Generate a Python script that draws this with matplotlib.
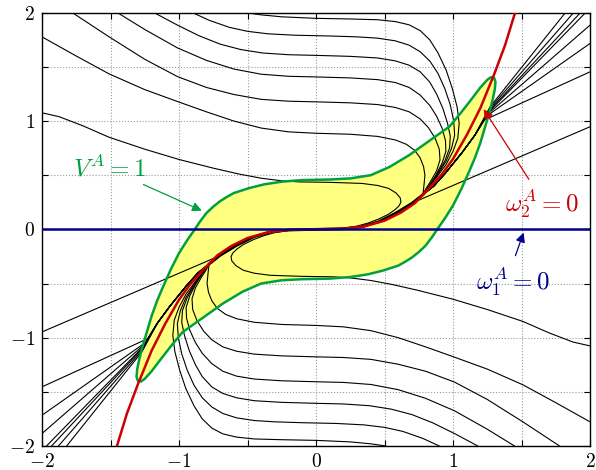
import matplotlib
matplotlib.use("Agg")
import matplotlib.pyplot as plt
from matplotlib.ticker import MultipleLocator, FuncFormatter

plt.rcParams['mathtext.fontset'] = 'cm'
plt.rcParams['font.family'] = ['DejaVu Serif']

# upper half of every curve; the lower half is its mirror (-x, -y)

# level set V^A = 1 (half of the closed curve)
green_x = [-0.885, -0.845, -0.80, -0.75, -0.70, -0.65, -0.60, -0.49, -0.38, -0.25, -0.10, 0.10, 0.25, 0.40,
           0.535, 0.68, 0.83, 0.975, 1.06, 1.14, 1.20, 1.25, 1.278, 1.30, 1.31, 1.305, 1.29, 1.27, 1.24,
           1.20, 1.16, 1.12, 1.06, 1.0, 0.94, 0.885]
green_y = [0.0, 0.075, 0.15, 0.21, 0.26, 0.30, 0.335, 0.38, 0.415, 0.44, 0.455, 0.46, 0.47, 0.50,
           0.575, 0.685, 0.82, 0.95, 1.08, 1.21, 1.31, 1.38, 1.405, 1.40, 1.36, 1.29, 1.20, 1.10, 0.97,
           0.80, 0.66, 0.54, 0.37, 0.22, 0.10, 0.0]

# omega_2^A = 0
red_x = [0.0, 0.2, 0.35, 0.5, 0.62, 0.72, 0.82, 0.92, 1.0, 1.1, 1.2, 1.3, 1.38, 1.47]
red_y = [0.0, 0.005, 0.027, 0.08, 0.155, 0.24, 0.37, 0.51, 0.65, 0.87, 1.12, 1.43, 1.70, 2.07]

# common bundle into the origin
tail_x = [0.78, 0.70, 0.58, 0.457, 0.336, 0.2, 0.0]
tail_y = [0.32, 0.24, 0.148, 0.07, 0.024, 0.006, 0.0]
bundle_x = [1.16, 1.067, 0.945, 0.86]
bundle_y = [0.87, 0.71, 0.52, 0.40]

# trajectories with a plateau (top side)
p1_x = [-0.51, -0.4, -0.25, 0.0, 0.25, 0.45, 0.58, 0.68, 0.76, 0.83, 0.89, 0.95, 0.995, 1.03, 1.045,
        1.035, 1.0, 0.95, 0.88, 0.82]
p1_y = [2.0, 1.98, 1.962, 1.948, 1.942, 1.935, 1.918, 1.888, 1.835, 1.75, 1.63, 1.47, 1.30, 1.13, 0.98,
        0.84, 0.72, 0.60, 0.48, 0.39]
p2_x = [-0.90, -0.78, -0.633, -0.5, -0.35, -0.15, 0.1, 0.3, 0.45, 0.58, 0.68, 0.76, 0.83, 0.89, 0.94,
        0.98, 1.005, 1.012, 0.99, 0.95, 0.89, 0.83]
p2_y = [2.0, 1.93, 1.865, 1.828, 1.805, 1.792, 1.785, 1.777, 1.765, 1.74, 1.70, 1.64, 1.555, 1.44, 1.30,
        1.15, 1.0, 0.87, 0.75, 0.63, 0.51, 0.40]
p3_x = [-1.181, -1.011, -0.85, -0.7, -0.55, -0.39, -0.2, 0.0, 0.25, 0.45, 0.58, 0.68, 0.76, 0.83, 0.88,
        0.925, 0.96, 0.98, 0.975, 0.94, 0.885, 0.83]
p3_y = [2.0, 1.885, 1.785, 1.71, 1.66, 1.628, 1.612, 1.606, 1.597, 1.582, 1.555, 1.515, 1.455, 1.36, 1.25,
        1.12, 0.98, 0.86, 0.75, 0.63, 0.51, 0.40]
p4_x = [-1.449, -1.25, -1.011, -0.8, -0.6, -0.4, -0.2, 0.0, 0.25, 0.45, 0.58, 0.68, 0.76, 0.83, 0.88,
        0.92, 0.945, 0.948, 0.92, 0.875, 0.82]
p4_y = [2.0, 1.845, 1.675, 1.56, 1.48, 1.432, 1.413, 1.407, 1.398, 1.382, 1.355, 1.31, 1.24, 1.145, 1.045,
        0.935, 0.82, 0.72, 0.61, 0.50, 0.39]
p5_x = [-1.778, -1.51, -1.25, -1.011, -0.8, -0.6, -0.4, -0.2, 0.0, 0.25, 0.45, 0.58, 0.68, 0.76, 0.82,
        0.87, 0.9, 0.905, 0.88, 0.84, 0.80]
p5_y = [2.0, 1.777, 1.57, 1.41, 1.31, 1.245, 1.2, 1.183, 1.177, 1.168, 1.152, 1.125, 1.085, 1.02, 0.94,
        0.84, 0.74, 0.64, 0.54, 0.45, 0.37]
p6_x = [-2.0, -1.75, -1.51, -1.25, -1.011, -0.8, -0.6, -0.4, -0.2, 0.0, 0.25, 0.45, 0.58, 0.66, 0.72,
        0.76, 0.785, 0.795, 0.79, 0.785]
p6_y = [1.777, 1.60, 1.435, 1.29, 1.18, 1.085, 1.0, 0.935, 0.9, 0.887, 0.878, 0.858, 0.825, 0.785, 0.73,
        0.66, 0.58, 0.50, 0.43, 0.37]
p7_x = [-2.0, -1.875, -1.7, -1.51, -1.25, -1.0, -0.75, -0.56, -0.4, -0.25, -0.12, 0.1, 0.336, 0.45, 0.53,
        0.585, 0.615, 0.62, 0.605, 0.575, 0.53, 0.457, 0.38, 0.3, 0.2, 0.0]
p7_y = [1.076, 1.04, 0.955, 0.85, 0.74, 0.645, 0.565, 0.51, 0.472, 0.448, 0.438, 0.434, 0.424, 0.405, 0.378,
        0.335, 0.29, 0.25, 0.215, 0.18, 0.14, 0.095, 0.058, 0.03, 0.01, 0.0]

# straight trajectories coming in from the upper right: edge point, then where they reach the bundle
fan_edge_x = [1.82, 1.88, 1.93, 1.967, 2.0, 2.0, 2.0]
fan_edge_y = [2.0, 2.0, 2.0, 2.0, 1.885, 1.716, 1.454]
fan_join_x = [1.27, 1.265, 1.26, 1.255, 1.25, 1.245, 1.23]
fan_join_y = [1.13, 1.11, 1.09, 1.075, 1.06, 1.045, 1.01]
low_line_x = [2.0, 0.76]
low_line_y = [0.947, 0.275]

green = '#00a040'
yellow = '#ffff80'
red = '#cc0000'
blue = '#000088'

fig = plt.figure(figsize=(5.96, 4.70), dpi=100)
ax = fig.add_axes([42 / 596, 1 - 446 / 470, 548 / 596, 433.3 / 470])


def both(xs, ys, **kw):
    ax.plot(xs, ys, **kw)
    ax.plot([-v for v in xs], [-v for v in ys], **kw)


# yellow region
ax.fill(green_x + [-v for v in green_x], green_y + [-v for v in green_y], color=yellow, lw=0, zorder=1)

kw = dict(color='black', lw=0.8, zorder=2, solid_joinstyle='round')
for xs, ys in [(p1_x, p1_y), (p2_x, p2_y), (p3_x, p3_y), (p4_x, p4_y), (p5_x, p5_y), (p6_x, p6_y)]:
    both(xs + tail_x, ys + tail_y, **kw)
both(p7_x, p7_y, **kw)
for i in range(len(fan_edge_x)):
    both([fan_edge_x[i], fan_join_x[i]] + bundle_x + tail_x,
         [fan_edge_y[i], fan_join_y[i]] + bundle_y + tail_y, **kw)
both(low_line_x + tail_x[1:], low_line_y + tail_y[1:], **kw)
both(tail_x, tail_y, color='black', lw=2.0, zorder=2)

both(green_x, green_y, color=green, lw=1.8, zorder=3, solid_joinstyle='round')
both(red_x, red_y, color=red, lw=1.8, zorder=4, solid_joinstyle='round')
ax.axhline(0, color=blue, lw=1.8, zorder=5)

# labels
ax.annotate('', xy=(-0.815, 0.162), xytext=(-1.278, 0.424),
            arrowprops=dict(arrowstyle='-|>', color=green, lw=0.9, mutation_scale=14), zorder=6)
ax.text(-1.51, 0.56, r'$V^A = 1$', color=green, fontsize=18, ha='center', va='center')

ax.annotate('', xy=(1.213, 1.13), xytext=(1.565, 0.44),
            arrowprops=dict(arrowstyle='-|>', color=red, lw=0.9, mutation_scale=14), zorder=6)
ax.text(1.649, 0.24, r'$\omega_2^A = 0$', color=red, fontsize=18, ha='center', va='center')

ax.annotate('', xy=(1.522, -0.006), xytext=(1.449, -0.267),
            arrowprops=dict(arrowstyle='-|>', color=blue, lw=0.9, mutation_scale=14), zorder=6)
ax.text(1.436, -0.486, r'$\omega_1^A = 0$', color=blue, fontsize=18, ha='center', va='center')

ax.set_xlim(-2, 2)
ax.set_ylim(-2, 2)
ax.xaxis.set_major_locator(MultipleLocator(0.5))
ax.yaxis.set_major_locator(MultipleLocator(0.5))
fmt = FuncFormatter(lambda v, p: r'$%d$' % round(v) if abs(v - round(v)) < 1e-6 else '')
ax.xaxis.set_major_formatter(fmt)
ax.yaxis.set_major_formatter(fmt)
ax.tick_params(direction='in', top=True, right=True, length=4, width=0.8, labelsize=14, pad=5)
ax.grid(True, linestyle=':', color='#999999', lw=0.8)
ax.set_axisbelow(True)
for s in ax.spines.values():
    s.set_linewidth(1.0)

fig.savefig('out.png', dpi=100)
